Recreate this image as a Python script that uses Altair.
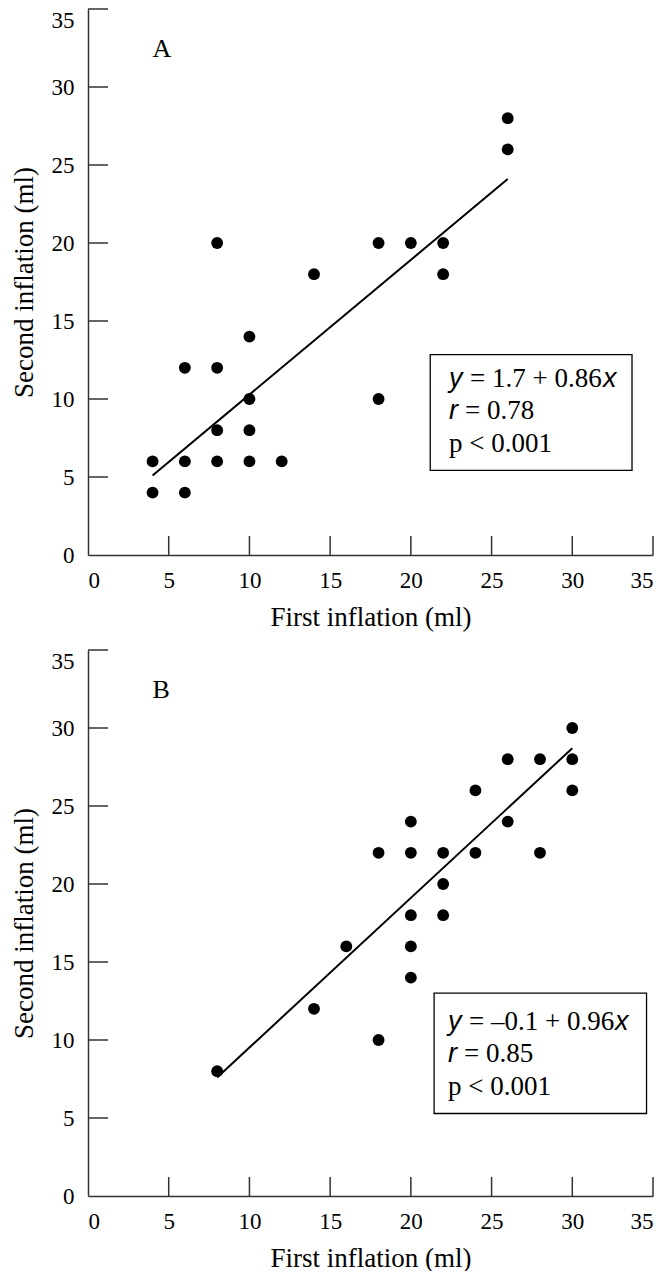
import altair as alt
import pandas as pd

# ---------------- data ----------------
a_first = [4, 4, 6, 6, 6, 8, 8, 8, 8, 10, 10, 10, 10, 12, 14, 18, 18, 20, 22, 22, 26, 26]
a_second = [6, 4, 6, 4, 12, 12, 20, 8, 6, 14, 10, 8, 6, 6, 18, 20, 10, 20, 20, 18, 28, 26]
b_first = [8, 14, 16, 18, 18, 20, 20, 20, 20, 20, 22, 22, 22, 24, 24, 26, 26, 28, 28, 30, 30, 30]
b_second = [8, 12, 16, 22, 10, 24, 22, 18, 16, 14, 22, 20, 18, 26, 22, 28, 24, 28, 22, 30, 28, 26]

a_fit_x = [4, 26]
a_fit_y = [5.1, 24.1]
b_fit_x = [8, 30]
b_fit_y = [7.6, 28.7]

tick_values = [0, 5, 10, 15, 20, 25, 30, 35]
inner_ticks = [5, 10, 15, 20, 25, 30, 35]

a_eq = ["y", "= 1.7 + 0.86", "x", "r", "= 0.78", "p < 0.001"]
b_eq = ["y", "= \u20130.1 + 0.96", "x", "r", "= 0.85", "p < 0.001"]

X_TITLE = "First inflation (ml)"
Y_TITLE = "Second inflation (ml)"

W = 565
H = 546
SERIF = "Liberation Serif"
SANS = "Liberation Sans"
AX = "#333333"
TXT = 27

xs = alt.Scale(domain=[0, 35], nice=False, zero=False)
ys = alt.Scale(domain=[0, 35], nice=False, zero=False)
XAX = alt.Axis(title=X_TITLE, values=tick_values, ticks=False, grid=False)
YAX = alt.Axis(title=Y_TITLE, values=tick_values, ticks=False, grid=False,
               labelBaseline=alt.ExprRef("datum.value == 35 ? 'top' : 'middle'"))


def X(f):
    return alt.X(f, scale=xs, axis=XAX, title=X_TITLE)


def Y(f):
    return alt.Y(f, scale=ys, axis=YAX, title=Y_TITLE)


def txt(x, y, s, dx=0, font=SERIF, style="normal", size=TXT):
    df = pd.DataFrame({"tx": [x], "ty": [y], "s": [s]})
    return alt.Chart(df).mark_text(
        align="left", baseline="middle", dx=dx, font=font, fontStyle=style,
        fontSize=size, color="black"
    ).encode(x=X("tx:Q"), y=Y("ty:Q"), text="s:N")


def panel(first, second, fx, fy, eq, box, tx, lines, label, xdx):
    pts = pd.DataFrame({"first": first, "second": second})
    points = alt.Chart(pts).mark_circle(size=140, color="black", opacity=1).encode(
        x=X("first:Q"), y=Y("second:Q"),
    )
    fit = alt.Chart(pd.DataFrame({"fx": fx, "fy": fy})).mark_line(
        color="black", strokeWidth=2
    ).encode(x=X("fx:Q"), y=Y("fy:Q"))
    tdf = pd.DataFrame({"v": inner_ticks})
    yt = alt.Chart(tdf).mark_rule(color=AX, strokeWidth=1.5).encode(
        y=Y("v:Q"), x=alt.value(0), x2=alt.value(20),
    )
    xt = alt.Chart(tdf).mark_rule(color=AX, strokeWidth=1.5).encode(
        x=X("v:Q"), y=alt.value(H), y2=alt.value(H - 19),
    )
    bdf = pd.DataFrame({"x1": [box[0]], "x2": [box[1]], "y1": [box[2]], "y2": [box[3]]})
    rect = alt.Chart(bdf).mark_rect(
        fillOpacity=0, stroke="black", strokeWidth=1.3
    ).encode(x=X("x1:Q"), x2="x2:Q", y=Y("y1:Q"), y2="y2:Q")
    texts = [
        txt(tx, lines[0], eq[0], 0, SANS, "italic"),
        txt(tx, lines[0], eq[1], 21),
        txt(tx, lines[0], eq[2], xdx, SANS, "italic"),
        txt(tx, lines[1], eq[3], 0, SANS, "italic"),
        txt(tx, lines[1], eq[4], 16),
        txt(tx, lines[2], eq[5], 0),
        txt(4.0, 32.45, label, 0, SERIF, "normal", 26),
    ]
    return alt.layer(points, fit, yt, xt, rect, *texts).properties(width=W, height=H)


A = panel(a_first, a_second, a_fit_x, a_fit_y, a_eq,
          (21.2, 33.7, 12.85, 5.42), 22.37, (11.28, 9.24, 7.14), "A", 154)
B = panel(b_first, b_second, b_fit_x, b_fit_y, b_eq,
          (21.44, 34.6, 13.0, 5.29), 22.3, (11.15, 9.1, 7.0), "B", 167)

chart = alt.vconcat(A, B, spacing=95).properties(
    bounds="flush", padding={"left": 2, "top": 0, "right": 0, "bottom": 0}
).configure_view(stroke=None).configure_axis(
    domainColor=AX, domainWidth=1.5,
    labelFont=SERIF, labelFontSize=23, labelColor="black",
    titleFont=SERIF, titleFontSize=27, titleFontWeight="normal", titleColor="black",
).configure_axisX(titlePadding=12, labelPadding=14).configure_axisY(titlePadding=13, labelPadding=14)

chart.save("out.html", embed_options={"renderer": "svg", "actions": False})
